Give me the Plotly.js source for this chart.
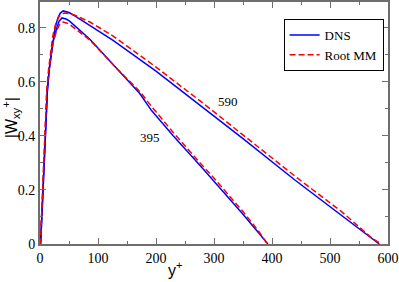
<!DOCTYPE html>
<html>
<head>
<meta charset="utf-8">
<script src="https://cdn.plot.ly/plotly-3.0.1.min.js"></script>
<style>html,body{margin:0;padding:0;background:#fff;}#chart{width:399px;height:282px;}</style>
</head>
<body>
<div id="chart"></div>
<script>
// DNS, Re_tau = 590
const dns590X = [0, 1, 4, 7, 10, 12.7, 16, 19, 22, 26, 31, 35, 40, 50, 60, 86, 126, 200, 276, 350, 440, 520, 585];
const dns590Y = [0, 0, 0.14, 0.285, 0.43, 0.57, 0.65, 0.70, 0.755, 0.80, 0.838, 0.855, 0.863, 0.857, 0.845, 0.81, 0.754, 0.64, 0.514, 0.39, 0.236, 0.105, 0];
// Root MM, Re_tau = 590
const mm590X = [0, 0.5, 3.5, 6, 9, 11.7, 15, 18, 22, 27, 33, 42, 50, 60, 86, 126, 200, 276, 350, 445, 520, 572, 588];
const mm590Y = [0, 0, 0.14, 0.285, 0.43, 0.57, 0.65, 0.71, 0.77, 0.815, 0.843, 0.855, 0.853, 0.847, 0.822, 0.77, 0.655, 0.53, 0.405, 0.242, 0.12, 0.022, 0];
// DNS, Re_tau = 395
const dns395X = [0, 1, 4, 7, 10, 12.7, 16, 19, 22, 29, 33, 38, 45, 51, 65, 86, 130, 172, 192, 230, 276, 299, 350, 393];
const dns395Y = [0, 0, 0.14, 0.285, 0.43, 0.565, 0.645, 0.695, 0.745, 0.80, 0.825, 0.837, 0.833, 0.825, 0.797, 0.758, 0.655, 0.557, 0.495, 0.40, 0.291, 0.236, 0.11, 0];
// Root MM, Re_tau = 395
const mm395X = [0, 0.5, 3.5, 6, 9, 11.7, 15, 18, 22, 28, 33, 40, 50, 65, 86, 130, 172, 192, 230, 276, 299, 350, 377, 392];
const mm395Y = [0, 0, 0.14, 0.285, 0.43, 0.565, 0.64, 0.69, 0.74, 0.785, 0.81, 0.822, 0.815, 0.79, 0.755, 0.655, 0.565, 0.51, 0.412, 0.30, 0.246, 0.12, 0.047, 0];

const seriesNames = ["DNS", "Root MM"];
const curveLabels = ["590", "395"];
const labelX = [324, 190];
const labelY = [0.528, 0.393];
const xTitle = "y<sup>+</sup>";
const yTitle = "|W<sub>xy</sub><sup>+</sup>|";

const blue = "#0000ff", red = "#ff0000";
const traces = [
  {x: dns590X, y: dns590Y, name: seriesNames[0], legendgroup: "dns", showlegend: true,
   mode: "lines", line: {color: blue, width: 1.5}},
  {x: mm590X, y: mm590Y, name: seriesNames[1], legendgroup: "mm", showlegend: true,
   mode: "lines", line: {color: red, width: 1.5, dash: "6px,3px"}},
  {x: dns395X, y: dns395Y, name: seriesNames[0], legendgroup: "dns", showlegend: false,
   mode: "lines", line: {color: blue, width: 1.5}},
  {x: mm395X, y: mm395Y, name: seriesNames[1], legendgroup: "mm", showlegend: false,
   mode: "lines", line: {color: red, width: 1.5, dash: "6px,3px"}}
];

const axisColor = "#6e6e6e";
const serif = "Times New Roman, Liberation Serif, serif";
const sans = "Liberation Sans";

const annotations = curveLabels.map((t, i) => ({
  x: labelX[i], y: labelY[i], xref: "x", yref: "y", text: t, showarrow: false,
  font: {family: serif, size: 13, color: "#000"}
}));
annotations.push({x: 0.39, y: -0.152, xref: "paper", yref: "paper", text: xTitle,
  showarrow: false, xanchor: "center", yanchor: "bottom",
  font: {family: sans, size: 16, color: "#000"}});
annotations.push({x: -0.083, y: 0.52, xref: "paper", yref: "paper", text: yTitle,
  showarrow: false, xanchor: "center", yanchor: "middle", textangle: -90,
  font: {family: sans, size: 16, color: "#000"}});

const layout = {
  width: 399, height: 282,
  margin: {l: 40, r: 11, t: 2, b: 38},
  paper_bgcolor: "#fff", plot_bgcolor: "#fff",
  font: {family: serif},
  showlegend: true,
  legend: {x: 0.70, y: 0.93, xanchor: "left", yanchor: "top",
           bgcolor: "#fff", bordercolor: "#000", borderwidth: 1,
           font: {family: serif, size: 13, color: "#000"},
           tracegroupgap: 0, itemwidth: 30},
  xaxis: {range: [0, 600], dtick: 100, tick0: 0,
          showgrid: false, zeroline: false,
          showline: true, mirror: "allticks", linecolor: axisColor, linewidth: 2,
          ticks: "inside", ticklen: 6, tickwidth: 1, tickcolor: axisColor,
          minor: {dtick: 50, ticks: "inside", ticklen: 3, tickcolor: axisColor, showgrid: false},
          tickfont: {family: serif, size: 14, color: "#000"}},
  yaxis: {range: [0, 0.896], dtick: 0.2, tick0: 0,
          showgrid: false, zeroline: false,
          showline: true, mirror: "allticks", linecolor: axisColor, linewidth: 2,
          ticks: "inside", ticklen: 6, tickwidth: 1, tickcolor: axisColor,
          minor: {dtick: 0.1, ticks: "inside", ticklen: 3, tickcolor: axisColor, showgrid: false},
          tickfont: {family: serif, size: 14, color: "#000"}},
  annotations: annotations
};

Plotly.newPlot("chart", traces, layout, {displayModeBar: false, staticPlot: true});
</script>
</body>
</html>
